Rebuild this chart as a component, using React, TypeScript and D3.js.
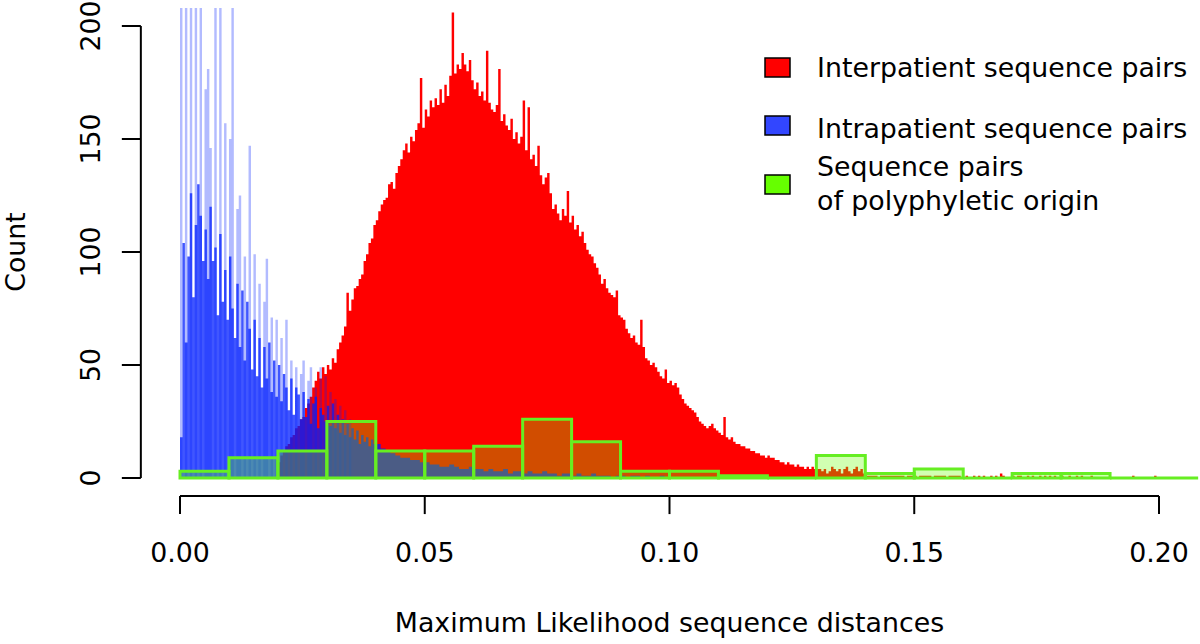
import React from "react";
import * as d3 from "d3";

const W = 1200;
const H = 644;

// Interpatient (red) histogram: bins of 0.0005 starting at 0.020
const RED_START = 0.02;
const RED_BIN = 0.0005;
const redCounts = [
  7, 10, 12, 14, 15, 18, 19, 22, 23, 26,
  27, 31, 33, 36, 40, 43, 47, 44, 49, 46,
  50, 48, 53, 51, 57, 60, 63, 67, 82, 74,
  79, 84, 85, 88, 90, 96, 99, 104, 106, 112,
  114, 118, 121, 123, 124, 130, 131, 128, 135, 138,
  141, 145, 148, 144, 151, 149, 154, 157, 177, 155,
  163, 160, 167, 164, 168, 165, 172, 166, 174, 169,
  178, 206, 179, 183, 181, 188, 183, 180, 185, 176,
  172, 175, 169, 171, 167, 189, 166, 163, 162, 165,
  181, 158, 161, 156, 154, 159, 150, 153, 148, 151,
  167, 145, 164, 141, 143, 138, 147, 134, 130, 133,
  135, 126, 119, 121, 117, 114, 119, 116, 127, 113,
  116, 110, 112, 107, 109, 104, 101, 99, 98, 95,
  93, 90, 86, 88, 84, 82, 81, 80, 83, 72,
  71, 70, 66, 64, 62, 63, 60, 59, 70, 58,
  53, 52, 50, 51, 49, 47, 45, 44, 48, 42,
  43, 41, 42, 40, 37, 35, 33, 32, 31, 30,
  29, 27, 25, 24, 23, 22, 23, 24, 22, 21,
  20, 19, 27, 18, 17, 18, 16, 15, 15, 14,
  14, 13, 13, 12, 12, 11, 11, 10, 10, 9,
  10, 9, 9, 8, 8, 7, 7, 6, 7, 6,
  6, 5, 6, 5, 5, 4, 5, 4, 5, 4,
  4, 4, 3, 4, 2, 3, 5, 4, 3, 4,
  2, 4, 5, 3, 2, 4, 5, 3, 4, 2,
  1, 1, 1, 1, 1, 0, 1, 1, 1, 1,
  1, 1, 1, 1, 1, 1, 0, 1, 1, 1,
  1, 0, 1, 1, 1, 1, 1, 0, 1, 1,
  1, 1, 1, 0, 1, 1, 1, 1, 1, 0,
  0, 1, 0, 0, 1, 0, 1, 0, 1, 0,
  0, 1, 0, 1, 0, 2, 1, 0, 0, 0,
  1, 0, 1, 1, 0, 0, 1, 0, 1, 0,
  0, 1, 0, 1, 0, 1, 0, 1, 0, 0,
  1, 0, 0, 1, 0, 0, 1, 0, 1, 0,
  0, 0, 1, 0, 0, 0, 0, 0, 0, 0,
  0, 0, 0, 0, 0, 0, 0, 0, 0, 1,
  0, 0, 0, 0, 0, 0, 0, 0, 1, 0,
];

// Intrapatient (blue) histogram: light spikes and dense part, bins of 0.0005 from 0
const BLUE_START = 0;
const BLUE_BIN = 0.0005;
const blueLightCounts = [
  230, 0, 230, 0, 230, 0, 230, 0, 230, 0,
  172, 181, 146, 0, 230, 0, 230, 0, 157, 0,
  150, 230, 0, 119, 125, 0, 98, 0, 147, 0,
  99, 0, 86, 0, 78, 97, 0, 71, 0, 70,
  0, 62, 0, 70, 0, 52, 0, 49, 0, 46,
  52, 0, 43, 49, 0, 40, 0, 49, 0, 45,
  0, 38, 0, 35, 0, 32, 0, 30, 0, 26,
];
const blueDenseCounts = [
  18, 104, 60, 98, 126, 80, 112, 130, 116, 96,
  110, 88, 120, 96, 102, 72, 108, 78, 92, 70,
  98, 75, 62, 86, 58, 83, 52, 78, 66, 48,
  70, 45, 62, 40, 58, 44, 60, 38, 52, 36,
  50, 34, 46, 40, 30, 44, 28, 40, 37, 26,
  38, 27, 35, 24, 33, 36, 22, 31, 28, 25,
  32, 23, 33, 22, 28, 20, 26, 19, 24, 18,
  22, 17, 21, 15, 19, 16, 18, 14, 17, 15,
];
const BLUE_TAIL_START = 0.04;
const BLUE_TAIL_BIN = 0.001;
const blueTailCounts = [
  15, 13, 12, 11, 10, 9, 9, 8, 8, 7,
  7, 6, 6, 5, 5, 6, 5, 4, 4, 5,
  4, 4, 3, 4, 3, 3, 4, 2, 3, 3,
  2, 3, 2, 2, 3, 2, 2, 1, 2, 2,
  1, 2, 1, 1, 2, 1, 1, 1, 0, 1,
  1, 0, 1, 1, 0, 1, 0, 0, 1, 0,
];

// Polyphyletic origin (green) histogram: bins of 0.01 from 0
const GREEN_START = 0;
const GREEN_BIN = 0.01;
const greenCounts = [3, 9, 12, 25, 12, 12, 14, 26, 16, 3, 3, 1, 0, 10, 2, 4, 0, 2, 2, 0, 0];

const xTicks = [0, 0.05, 0.1, 0.15, 0.2];
const xTickLabels = ["0.00", "0.05", "0.10", "0.15", "0.20"];
const yTicks = [0, 50, 100, 150, 200];

const legendLabels = [
  ["Interpatient sequence pairs"],
  ["Intrapatient sequence pairs"],
  ["Sequence pairs", "of polyphyletic origin"],
];
const legendColors = ["#ff0000", "#3246ff", "#66ff00"];

const FONT = "'DejaVu Sans', Verdana, sans-serif";
const FS = 26.8;

export default function App() {
  const x = d3.scaleLinear().domain([0, 0.2]).range([180, 1159]);
  const y = d3.scaleLinear().domain([0, 200]).range([478, 26]);

  const left = x(-0.008);
  const right = x(0.208);
  const top = y(208);
  const bottom = y(-8);

  const area = d3
    .area<[number, number]>()
    .x((d) => x(d[0]))
    .y0(y(0))
    .y1((d) => y(d[1]))
    .curve(d3.curveStepAfter);

  const stepPath = (start: number, bin: number, counts: number[]) => {
    const pts: [number, number][] = counts.map((c, i) => [start + i * bin, c]);
    pts.push([start + counts.length * bin, counts[counts.length - 1]]);
    return area(pts) || "";
  };

  const blueBase = "rgb(0,30,255)";

  const legendRows = [
    { box: [58, 77], lines: [77] },
    { box: [116, 135], lines: [137.5] },
    { box: [175, 194], lines: [176, 210] },
  ];

  return (
    <svg
      width={W}
      height={H}
      style={{ position: "absolute", left: 0, top: 0, display: "block", background: "#fff" }}
      fontFamily={FONT}
    >
      <defs>
        <clipPath id="plotClip">
          <rect x={left} y={top} width={right - left} height={bottom - top} />
        </clipPath>
      </defs>
      <rect x={0} y={0} width={W} height={H} fill="#fff" />

      <g clipPath="url(#plotClip)">
        <path d={stepPath(RED_START, RED_BIN, redCounts)} fill="#ff0000" />
        <path d={stepPath(BLUE_START, BLUE_BIN, blueLightCounts)} fill={blueBase} fillOpacity={0.3} />
        <path d={stepPath(BLUE_START, BLUE_BIN, blueDenseCounts)} fill={blueBase} fillOpacity={0.75} />
        <path d={stepPath(BLUE_TAIL_START, BLUE_TAIL_BIN, blueTailCounts)} fill={blueBase} fillOpacity={0.75} />
        {greenCounts.map((c, i) => {
          const x0 = x(GREEN_START + i * GREEN_BIN);
          const x1 = x(GREEN_START + (i + 1) * GREEN_BIN);
          const y0 = y(0);
          const y1 = y(c);
          return (
            <path
              key={i}
              d={`M${x0},${y0}V${y1}H${x1}V${y0}Z`}
              fill="rgb(102,255,0)"
              fillOpacity={0.3}
              stroke="#66ee22"
              strokeWidth={3}
            />
          );
        })}
      </g>

      {/* Y axis */}
      <line x1={left} x2={left} y1={y(200)} y2={y(0)} stroke="#000" strokeWidth={2} />
      {yTicks.map((t) => (
        <g key={t}>
          <line x1={left - 19} x2={left} y1={y(t)} y2={y(t)} stroke="#000" strokeWidth={2} />
          <text
            transform={`translate(${left - 41},${y(t)}) rotate(-90)`}
            textAnchor="middle"
            fontSize={FS}
            fill="#000"
          >
            {t}
          </text>
        </g>
      ))}
      <text
        transform={`translate(25,${(top + bottom) / 2}) rotate(-90)`}
        textAnchor="middle"
        fontSize={FS}
        fill="#000"
      >
        Count
      </text>

      {/* X axis */}
      <line x1={x(0)} x2={x(0.2)} y1={bottom} y2={bottom} stroke="#000" strokeWidth={2} />
      {xTicks.map((t, i) => (
        <g key={t}>
          <line x1={x(t)} x2={x(t)} y1={bottom} y2={bottom + 18} stroke="#000" strokeWidth={2} />
          <text x={x(t)} y={562} textAnchor="middle" fontSize={FS} fill="#000">
            {xTickLabels[i]}
          </text>
        </g>
      ))}
      <text x={(left + right) / 2} y={632} textAnchor="middle" fontSize={FS} fill="#000">
        Maximum Likelihood sequence distances
      </text>

      {/* Legend */}
      {legendLabels.map((lines, i) => (
        <g key={i}>
          <rect
            x={765}
            y={legendRows[i].box[0]}
            width={25}
            height={legendRows[i].box[1] - legendRows[i].box[0]}
            fill={legendColors[i]}
            stroke="#000"
            strokeWidth={1.5}
          />
          {lines.map((ln, j) => (
            <text key={j} x={817} y={legendRows[i].lines[j]} fontSize={FS} fill="#000">
              {ln}
            </text>
          ))}
        </g>
      ))}
    </svg>
  );
}
